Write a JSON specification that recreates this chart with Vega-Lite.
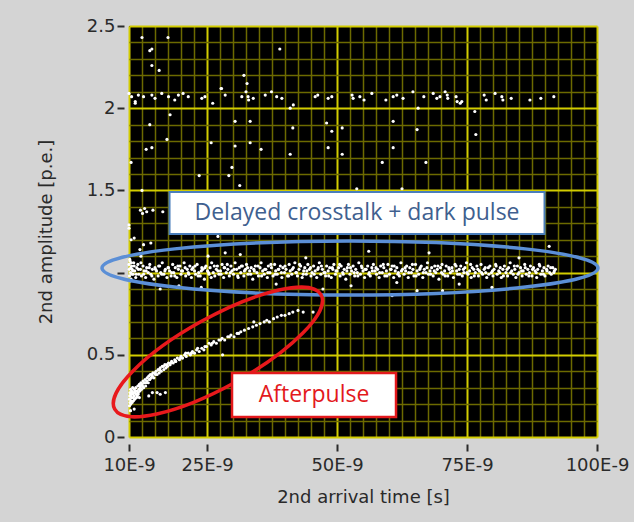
{
  "$schema": "https://vega.github.io/schema/vega-lite/v6.json",
  "width": 468,
  "height": 411,
  "autosize": {"type": "none"},
  "padding": {"left": 129, "top": 26, "right": 37, "bottom": 85},
  "background": "#d4d4d4",
  "view": {"fill": "#000000", "stroke": null},
  "datasets": {
    "pts": [
      {"t":10.0,"a":1.05},{"t":10.1,"a":0.98},{"t":10.2,"a":1.07},{"t":10.3,"a":1.00},{"t":10.4,"a":0.96},{"t":10.5,"a":1.04},{"t":10.6,"a":1.02},{"t":10.8,"a":0.99},{"t":10.9,"a":1.06},{"t":11.1,"a":1.01},
      {"t":11.3,"a":0.97},{"t":11.5,"a":1.03},{"t":11.7,"a":1.05},{"t":11.9,"a":0.99},{"t":12.2,"a":1.02},{"t":12.4,"a":0.98},{"t":12.7,"a":1.04},{"t":12.9,"a":1.01},{"t":13.2,"a":0.97},{"t":13.4,"a":1.03},
      {"t":13.7,"a":1.00},{"t":14.0,"a":1.05},{"t":14.2,"a":0.99},{"t":14.5,"a":1.02},{"t":14.8,"a":0.96},{"t":15.0,"a":1.03},{"t":15.3,"a":1.01},{"t":15.6,"a":0.98},{"t":15.9,"a":1.04},{"t":16.1,"a":1.00},
      {"t":16.4,"a":1.06},{"t":16.7,"a":0.99},{"t":17.0,"a":1.02},{"t":17.3,"a":0.97},{"t":17.5,"a":1.03},{"t":17.8,"a":1.01},{"t":18.1,"a":0.98},{"t":18.4,"a":1.05},{"t":18.6,"a":1.00},{"t":18.9,"a":1.03},
      {"t":19.2,"a":0.97},{"t":19.5,"a":1.02},{"t":19.8,"a":1.04},{"t":20.0,"a":0.99},{"t":20.3,"a":1.01},{"t":20.6,"a":1.06},{"t":20.9,"a":0.98},{"t":21.2,"a":1.02},{"t":21.4,"a":1.00},{"t":21.7,"a":1.04},
      {"t":22.0,"a":0.97},{"t":22.3,"a":1.03},{"t":22.6,"a":1.01},{"t":22.8,"a":0.99},{"t":23.1,"a":1.05},{"t":23.4,"a":1.00},{"t":23.7,"a":0.98},{"t":24.0,"a":1.03},{"t":24.2,"a":1.02},{"t":24.5,"a":0.96},
      {"t":24.8,"a":1.04},{"t":25.1,"a":1.01},{"t":25.4,"a":0.99},{"t":25.6,"a":1.03},{"t":25.9,"a":1.06},{"t":26.2,"a":1.00},{"t":26.5,"a":0.98},{"t":26.8,"a":1.02},{"t":27.0,"a":1.04},{"t":27.3,"a":0.99},
      {"t":27.6,"a":1.01},{"t":27.9,"a":1.05},{"t":28.2,"a":0.97},{"t":28.4,"a":1.03},{"t":28.7,"a":1.00},{"t":29.0,"a":1.02},{"t":29.3,"a":0.98},{"t":29.6,"a":1.04},{"t":29.8,"a":1.01},{"t":30.1,"a":0.99},
      {"t":30.4,"a":1.06},{"t":30.7,"a":1.02},{"t":31.0,"a":0.97},{"t":31.2,"a":1.03},{"t":31.5,"a":1.00},{"t":31.8,"a":1.04},{"t":32.1,"a":0.98},{"t":32.4,"a":1.02},{"t":32.6,"a":1.05},{"t":32.9,"a":0.99},
      {"t":33.2,"a":1.01},{"t":33.5,"a":1.03},{"t":33.8,"a":0.96},{"t":34.0,"a":1.02},{"t":34.3,"a":1.04},{"t":34.6,"a":1.00},{"t":34.9,"a":0.98},{"t":35.2,"a":1.03},{"t":35.4,"a":1.06},{"t":35.7,"a":1.01},
      {"t":36.0,"a":0.99},{"t":36.3,"a":1.02},{"t":36.6,"a":0.97},{"t":36.8,"a":1.04},{"t":37.1,"a":1.00},{"t":37.4,"a":1.03},{"t":37.7,"a":0.98},{"t":38.0,"a":1.05},{"t":38.2,"a":1.01},{"t":38.5,"a":0.99},
      {"t":38.8,"a":1.02},{"t":39.1,"a":1.04},{"t":39.4,"a":0.97},{"t":39.6,"a":1.03},{"t":39.9,"a":1.00},{"t":40.2,"a":1.02},{"t":40.5,"a":0.98},{"t":40.8,"a":1.05},{"t":41.0,"a":1.01},{"t":41.3,"a":0.99},
      {"t":41.6,"a":1.03},{"t":41.9,"a":1.06},{"t":42.2,"a":1.00},{"t":42.4,"a":0.98},{"t":42.7,"a":1.02},{"t":43.0,"a":1.04},{"t":43.3,"a":0.97},{"t":43.6,"a":1.01},{"t":43.8,"a":1.03},{"t":44.1,"a":0.99},
      {"t":44.4,"a":1.05},{"t":44.7,"a":1.02},{"t":45.0,"a":0.98},{"t":45.2,"a":1.00},{"t":45.5,"a":1.04},{"t":45.8,"a":1.01},{"t":46.1,"a":0.97},{"t":46.4,"a":1.03},{"t":46.6,"a":1.06},{"t":46.9,"a":0.99},
      {"t":47.2,"a":1.02},{"t":47.5,"a":1.00},{"t":47.8,"a":0.98},{"t":48.0,"a":1.04},{"t":48.3,"a":1.01},{"t":48.6,"a":1.03},{"t":48.9,"a":0.97},{"t":49.2,"a":1.02},{"t":49.4,"a":1.05},{"t":49.7,"a":0.99},
      {"t":50.0,"a":1.01},{"t":50.3,"a":1.03},{"t":50.6,"a":0.98},{"t":50.8,"a":1.04},{"t":51.1,"a":1.00},{"t":51.4,"a":1.02},{"t":51.7,"a":0.96},{"t":52.0,"a":1.03},{"t":52.2,"a":1.05},{"t":52.5,"a":0.99},
      {"t":52.8,"a":1.01},{"t":53.1,"a":1.04},{"t":53.4,"a":0.98},{"t":53.6,"a":1.02},{"t":53.9,"a":1.00},{"t":54.2,"a":1.06},{"t":54.5,"a":0.99},{"t":54.8,"a":1.03},{"t":55.0,"a":1.01},{"t":55.3,"a":0.97},
      {"t":55.6,"a":1.02},{"t":55.9,"a":1.04},{"t":56.2,"a":1.00},{"t":56.4,"a":0.98},{"t":56.7,"a":1.03},{"t":57.0,"a":1.05},{"t":57.3,"a":1.01},{"t":57.6,"a":0.99},{"t":57.8,"a":1.02},{"t":58.1,"a":0.97},
      {"t":58.4,"a":1.04},{"t":58.7,"a":1.00},{"t":59.0,"a":1.03},{"t":59.2,"a":0.98},{"t":59.5,"a":1.01},{"t":59.8,"a":1.05},{"t":60.1,"a":0.99},{"t":60.4,"a":1.02},{"t":60.6,"a":1.04},{"t":60.9,"a":0.97},
      {"t":61.2,"a":1.01},{"t":61.5,"a":1.03},{"t":61.8,"a":1.00},{"t":62.0,"a":0.98},{"t":62.3,"a":1.06},{"t":62.6,"a":1.02},{"t":62.9,"a":0.99},{"t":63.2,"a":1.01},{"t":63.4,"a":1.04},{"t":63.7,"a":0.97},
      {"t":64.0,"a":1.03},{"t":64.3,"a":1.00},{"t":64.6,"a":1.02},{"t":64.8,"a":0.98},{"t":65.1,"a":1.05},{"t":65.4,"a":1.01},{"t":65.7,"a":0.99},{"t":66.0,"a":1.03},{"t":66.2,"a":1.04},{"t":66.5,"a":0.97},
      {"t":66.8,"a":1.02},{"t":67.1,"a":1.00},{"t":67.4,"a":1.06},{"t":67.6,"a":0.99},{"t":67.9,"a":1.01},{"t":68.2,"a":1.03},{"t":68.5,"a":0.98},{"t":68.8,"a":1.04},{"t":69.0,"a":1.00},{"t":69.3,"a":1.02},
      {"t":69.6,"a":0.96},{"t":69.9,"a":1.03},{"t":70.2,"a":1.05},{"t":70.4,"a":0.99},{"t":70.7,"a":1.01},{"t":71.0,"a":1.04},{"t":71.3,"a":0.98},{"t":71.6,"a":1.02},{"t":71.8,"a":1.00},{"t":72.1,"a":1.03},
      {"t":72.4,"a":0.97},{"t":72.7,"a":1.05},{"t":73.0,"a":1.01},{"t":73.2,"a":0.99},{"t":73.5,"a":1.02},{"t":73.8,"a":1.04},{"t":74.1,"a":0.98},{"t":74.4,"a":1.00},{"t":74.6,"a":1.03},{"t":74.9,"a":1.06},
      {"t":75.2,"a":0.99},{"t":75.5,"a":1.01},{"t":75.8,"a":0.97},{"t":76.0,"a":1.03},{"t":76.3,"a":1.02},{"t":76.6,"a":1.00},{"t":76.9,"a":1.04},{"t":77.2,"a":0.98},{"t":77.4,"a":1.01},{"t":77.7,"a":1.05},
      {"t":78.0,"a":0.99},{"t":78.3,"a":1.02},{"t":78.6,"a":1.00},{"t":78.8,"a":0.97},{"t":79.1,"a":1.03},{"t":79.4,"a":1.04},{"t":79.7,"a":1.00},{"t":80.0,"a":0.98},{"t":80.2,"a":1.02},{"t":80.5,"a":1.05},
      {"t":80.8,"a":0.99},{"t":81.1,"a":1.01},{"t":81.4,"a":1.03},{"t":81.6,"a":0.97},{"t":81.9,"a":1.02},{"t":82.2,"a":1.04},{"t":82.5,"a":1.00},{"t":82.8,"a":0.98},{"t":83.0,"a":1.03},{"t":83.3,"a":1.06},
      {"t":83.6,"a":1.01},{"t":83.9,"a":0.99},{"t":84.2,"a":1.02},{"t":84.4,"a":0.97},{"t":84.7,"a":1.04},{"t":85.0,"a":1.00},{"t":85.3,"a":1.03},{"t":85.6,"a":0.98},{"t":85.8,"a":1.01},{"t":86.1,"a":1.05},
      {"t":86.4,"a":0.99},{"t":86.7,"a":1.02},{"t":87.0,"a":1.00},{"t":87.2,"a":1.04},{"t":87.5,"a":0.98},{"t":87.8,"a":1.03},{"t":88.1,"a":1.01},{"t":88.4,"a":0.97},{"t":88.6,"a":1.02},{"t":88.9,"a":1.05},
      {"t":89.2,"a":0.99},{"t":89.5,"a":1.01},{"t":89.8,"a":1.03},{"t":90.0,"a":0.98},{"t":90.3,"a":1.02},{"t":90.6,"a":1.04},{"t":90.9,"a":1.00},{"t":91.2,"a":0.99},{"t":91.5,"a":1.03},{"t":91.8,"a":1.01},
      {"t":10.05,"a":1.02},{"t":10.15,"a":1.08},{"t":10.25,"a":0.95},{"t":10.35,"a":1.03},{"t":10.45,"a":1.06},{"t":10.55,"a":0.99},{"t":10.7,"a":1.01},{"t":11.0,"a":1.04},{"t":11.4,"a":0.99},{"t":11.8,"a":1.02},
      {"t":12.3,"a":1.06},{"t":12.8,"a":0.99},{"t":13.3,"a":1.01},{"t":13.9,"a":1.03},{"t":14.4,"a":0.98},{"t":15.1,"a":1.02},{"t":15.7,"a":1.04},{"t":16.3,"a":0.99},{"t":16.9,"a":1.01},{"t":17.6,"a":1.03},
      {"t":18.2,"a":1.00},{"t":18.8,"a":0.98},{"t":19.4,"a":1.04},{"t":20.1,"a":1.01},{"t":20.8,"a":1.03},{"t":21.5,"a":0.99},{"t":22.1,"a":1.02},{"t":22.7,"a":1.04},{"t":23.3,"a":0.98},{"t":23.9,"a":1.01},
      {"t":24.6,"a":1.03},{"t":25.3,"a":1.00},{"t":25.8,"a":0.97},{"t":26.4,"a":1.04},{"t":27.1,"a":1.01},{"t":27.7,"a":0.99},{"t":28.3,"a":1.03},{"t":28.9,"a":1.05},{"t":29.5,"a":1.00},{"t":30.2,"a":1.02},
      {"t":30.9,"a":0.98},{"t":31.6,"a":1.04},{"t":32.2,"a":1.01},{"t":32.8,"a":1.03},{"t":33.4,"a":0.99},{"t":34.1,"a":1.01},{"t":34.8,"a":1.04},{"t":35.5,"a":0.98},{"t":36.1,"a":1.02},{"t":36.7,"a":1.00},
      {"t":37.3,"a":1.05},{"t":38.1,"a":0.99},{"t":38.7,"a":1.02},{"t":39.3,"a":1.00},{"t":40.0,"a":1.04},{"t":40.7,"a":0.98},{"t":41.4,"a":1.02},{"t":42.1,"a":1.00},{"t":42.8,"a":1.05},{"t":43.5,"a":0.99},
      {"t":44.2,"a":1.01},{"t":44.9,"a":1.03},{"t":45.6,"a":0.99},{"t":46.3,"a":1.02},{"t":47.0,"a":1.04},{"t":47.7,"a":1.00},{"t":48.4,"a":0.98},{"t":49.1,"a":1.03},{"t":49.8,"a":1.01},{"t":50.5,"a":1.05},
      {"t":51.2,"a":0.99},{"t":51.9,"a":1.01},{"t":52.6,"a":1.03},{"t":53.3,"a":1.00},{"t":54.0,"a":0.98},{"t":54.7,"a":1.04},{"t":55.4,"a":1.02},{"t":56.1,"a":0.99},{"t":56.8,"a":1.01},{"t":57.5,"a":1.03},
      {"t":58.2,"a":1.00},{"t":58.9,"a":1.05},{"t":59.6,"a":0.98},{"t":60.3,"a":1.02},{"t":61.0,"a":1.04},{"t":61.7,"a":0.99},{"t":62.4,"a":1.01},{"t":63.1,"a":1.03},{"t":63.8,"a":1.00},{"t":64.5,"a":1.05},
      {"t":65.2,"a":0.98},{"t":65.9,"a":1.02},{"t":66.6,"a":1.00},{"t":67.3,"a":1.03},{"t":68.0,"a":0.99},{"t":68.7,"a":1.01},{"t":69.4,"a":1.04},{"t":70.1,"a":1.00},{"t":70.8,"a":0.98},{"t":71.5,"a":1.03},
      {"t":72.2,"a":1.01},{"t":72.9,"a":1.04},{"t":73.6,"a":0.99},{"t":74.3,"a":1.02},{"t":75.0,"a":1.00},{"t":75.7,"a":1.05},{"t":76.4,"a":0.98},{"t":77.1,"a":1.02},{"t":77.8,"a":1.00},{"t":78.5,"a":1.03},
      {"t":79.2,"a":0.99},{"t":79.9,"a":1.01},{"t":80.6,"a":1.04},{"t":81.3,"a":1.00},{"t":82.0,"a":0.98},{"t":82.7,"a":1.02},{"t":83.4,"a":1.00},{"t":84.1,"a":1.04},{"t":84.8,"a":0.99},{"t":85.5,"a":1.01},
      {"t":86.2,"a":1.03},{"t":86.9,"a":0.98},{"t":87.6,"a":1.02},{"t":88.3,"a":1.00},{"t":89.0,"a":1.04},{"t":89.7,"a":0.99},{"t":90.4,"a":1.01},{"t":91.1,"a":1.03},{"t":91.7,"a":1.00},{"t":92.0,"a":1.02},
      {"t":12.3,"a":1.10},{"t":19.6,"a":0.92},{"t":23.9,"a":0.91},{"t":31.4,"a":1.11},{"t":38.3,"a":0.93},{"t":44.0,"a":1.09},{"t":52.7,"a":0.92},{"t":60.6,"a":0.86},{"t":61.5,"a":0.94},{"t":65.4,"a":0.89},
      {"t":67.7,"a":1.12},{"t":70.3,"a":0.89},{"t":73.5,"a":0.93},{"t":90.8,"a":1.16},{"t":85.0,"a":1.09},{"t":56.1,"a":1.13},{"t":47.3,"a":0.90},{"t":28.5,"a":1.12},{"t":16.0,"a":0.90},{"t":79.8,"a":0.91},
      {"t":10.0,"a":1.27},{"t":10.0,"a":1.29},{"t":10.4,"a":1.20},{"t":11.0,"a":1.21},{"t":12.1,"a":1.14},{"t":12.8,"a":1.17},{"t":14.2,"a":1.18},{"t":12.5,"a":1.50},{"t":12.6,"a":1.36},{"t":13.0,"a":1.39},
      {"t":13.4,"a":1.37},{"t":12.2,"a":1.38},{"t":14.6,"a":1.38},{"t":16.5,"a":1.37},{"t":10.4,"a":1.67},{"t":25.2,"a":1.10},{"t":27.1,"a":1.22},{"t":23.5,"a":1.59},{"t":29.2,"a":1.59},{"t":29.8,"a":1.64},
      {"t":31.3,"a":1.53},{"t":53.8,"a":1.51},{"t":62.5,"a":1.51},{"t":58.7,"a":1.67},{"t":67.1,"a":1.67},{"t":13.3,"a":1.75},{"t":14.4,"a":1.76},{"t":17.3,"a":1.81},{"t":14.0,"a":1.90},{"t":17.9,"a":1.96},
      {"t":11.2,"a":2.03},{"t":25.8,"a":1.79},{"t":30.4,"a":1.92},{"t":33.3,"a":1.92},{"t":33.3,"a":1.79},{"t":35.4,"a":1.75},{"t":30.4,"a":1.77},{"t":41.0,"a":1.72},{"t":48.3,"a":1.76},{"t":51.0,"a":1.72},
      {"t":60.8,"a":1.76},{"t":41.5,"a":1.88},{"t":48.0,"a":1.91},{"t":49.0,"a":1.86},{"t":51.0,"a":1.88},{"t":60.8,"a":1.92},{"t":76.7,"a":1.84},{"t":65.4,"a":1.87},
      {"t":12.5,"a":2.43},{"t":17.5,"a":2.43},{"t":14.0,"a":2.35},{"t":14.4,"a":2.36},{"t":14.4,"a":2.26},{"t":15.8,"a":2.23},{"t":39.0,"a":2.36},{"t":32.1,"a":2.20},{"t":32.7,"a":2.15},{"t":27.7,"a":2.12},
      {"t":10.0,"a":2.09},{"t":10.5,"a":2.07},{"t":11.2,"a":2.04},{"t":11.8,"a":2.08},{"t":12.8,"a":2.07},{"t":14.4,"a":2.08},{"t":15.0,"a":2.06},{"t":16.3,"a":2.09},{"t":17.6,"a":2.07},{"t":18.8,"a":2.05},
      {"t":19.5,"a":2.08},{"t":20.4,"a":2.09},{"t":21.4,"a":2.07},{"t":24.0,"a":2.06},{"t":24.6,"a":2.07},{"t":26.1,"a":2.03},{"t":27.8,"a":2.12},{"t":28.5,"a":2.08},{"t":31.7,"a":2.07},{"t":32.5,"a":2.10},
      {"t":33.0,"a":2.05},{"t":32.9,"a":2.07},{"t":33.9,"a":2.06},{"t":36.2,"a":2.08},{"t":37.4,"a":2.10},{"t":38.4,"a":2.07},{"t":39.4,"a":2.06},{"t":41.0,"a":2.00},{"t":41.6,"a":2.02},{"t":45.8,"a":2.07},
      {"t":46.3,"a":2.08},{"t":48.3,"a":2.06},{"t":49.0,"a":2.07},{"t":52.9,"a":2.08},{"t":53.1,"a":2.06},{"t":54.4,"a":2.07},{"t":55.2,"a":2.05},{"t":56.7,"a":2.09},{"t":59.4,"a":2.05},{"t":60.8,"a":2.07},
      {"t":61.5,"a":2.08},{"t":62.7,"a":2.06},{"t":64.6,"a":2.10},{"t":65.6,"a":2.00},{"t":66.7,"a":2.07},{"t":68.5,"a":2.09},{"t":69.2,"a":2.06},{"t":69.8,"a":2.07},{"t":70.8,"a":2.10},{"t":71.2,"a":2.08},
      {"t":71.3,"a":2.06},{"t":72.9,"a":2.07},{"t":73.1,"a":2.04},{"t":73.7,"a":2.03},{"t":74.0,"a":2.04},{"t":76.5,"a":1.98},{"t":78.3,"a":2.08},{"t":78.7,"a":2.05},{"t":80.4,"a":2.09},{"t":81.7,"a":2.07},
      {"t":81.9,"a":2.05},{"t":83.5,"a":2.06},{"t":87.1,"a":2.05},{"t":89.2,"a":2.06},{"t":91.7,"a":2.07},
      {"t":10.1,"a":0.19},{"t":10.1,"a":0.23},{"t":10.2,"a":0.27},{"t":10.2,"a":0.21},{"t":10.3,"a":0.25},{"t":10.3,"a":0.29},{"t":10.4,"a":0.22},{"t":10.4,"a":0.26},{"t":10.5,"a":0.24},{"t":10.5,"a":0.28},
      {"t":10.6,"a":0.21},{"t":10.7,"a":0.26},{"t":10.7,"a":0.30},{"t":10.8,"a":0.24},{"t":10.9,"a":0.27},{"t":11.0,"a":0.25},{"t":11.0,"a":0.29},{"t":11.1,"a":0.23},{"t":11.2,"a":0.27},{"t":11.3,"a":0.30},
      {"t":11.4,"a":0.26},{"t":11.5,"a":0.28},{"t":11.6,"a":0.25},{"t":11.7,"a":0.31},{"t":11.8,"a":0.27},{"t":11.9,"a":0.29},{"t":12.0,"a":0.32},{"t":12.1,"a":0.28},{"t":12.2,"a":0.30},{"t":12.3,"a":0.33},
      {"t":12.4,"a":0.29},{"t":12.6,"a":0.31},{"t":12.7,"a":0.34},{"t":12.8,"a":0.30},{"t":13.0,"a":0.33},{"t":13.1,"a":0.35},{"t":13.2,"a":0.31},{"t":13.4,"a":0.34},{"t":13.5,"a":0.36},{"t":13.7,"a":0.33},
      {"t":13.8,"a":0.37},{"t":14.0,"a":0.35},{"t":14.1,"a":0.38},{"t":14.3,"a":0.36},{"t":14.5,"a":0.37},{"t":14.6,"a":0.39},{"t":14.8,"a":0.36},{"t":15.0,"a":0.39},{"t":15.2,"a":0.40},{"t":15.4,"a":0.38},
      {"t":15.6,"a":0.41},{"t":15.8,"a":0.39},{"t":16.0,"a":0.42},{"t":16.2,"a":0.40},{"t":16.4,"a":0.43},{"t":16.7,"a":0.41},{"t":16.9,"a":0.44},{"t":17.1,"a":0.42},{"t":17.4,"a":0.43},{"t":17.6,"a":0.45},
      {"t":17.9,"a":0.44},{"t":18.2,"a":0.46},{"t":18.5,"a":0.45},{"t":18.8,"a":0.47},{"t":19.0,"a":0.46},{"t":19.3,"a":0.48},{"t":19.7,"a":0.47},{"t":20.0,"a":0.49},{"t":20.3,"a":0.48},{"t":20.7,"a":0.50},
      {"t":21.0,"a":0.49},{"t":21.4,"a":0.51},{"t":21.8,"a":0.50},{"t":22.2,"a":0.52},{"t":22.6,"a":0.51},{"t":23.0,"a":0.53},{"t":23.5,"a":0.52},{"t":24.0,"a":0.54},{"t":24.4,"a":0.53},{"t":24.9,"a":0.55},
      {"t":25.4,"a":0.57},{"t":25.8,"a":0.56},{"t":26.3,"a":0.58},{"t":26.8,"a":0.57},{"t":27.3,"a":0.59},{"t":27.9,"a":0.60},{"t":28.4,"a":0.59},{"t":29.0,"a":0.61},{"t":29.6,"a":0.62},{"t":30.2,"a":0.61},
      {"t":30.8,"a":0.63},{"t":31.5,"a":0.64},{"t":32.2,"a":0.65},{"t":33.0,"a":0.66},{"t":33.8,"a":0.67},{"t":34.5,"a":0.68},{"t":35.2,"a":0.69},{"t":36.0,"a":0.70},{"t":36.5,"a":0.71},{"t":37.0,"a":0.70},
      {"t":37.8,"a":0.72},{"t":38.5,"a":0.73},{"t":39.3,"a":0.74},{"t":40.0,"a":0.74},{"t":40.8,"a":0.75},{"t":41.5,"a":0.76},{"t":42.5,"a":0.77},{"t":43.5,"a":0.76},{"t":45.4,"a":0.76},
      {"t":10.15,"a":0.25},{"t":10.35,"a":0.20},{"t":10.6,"a":0.27},{"t":10.85,"a":0.22},{"t":11.15,"a":0.28},{"t":11.45,"a":0.24},{"t":11.75,"a":0.26},{"t":12.1,"a":0.31},{"t":12.5,"a":0.32},{"t":12.9,"a":0.33},
      {"t":13.3,"a":0.33},{"t":13.9,"a":0.35},{"t":14.4,"a":0.38},{"t":15.1,"a":0.38},{"t":15.9,"a":0.41},{"t":16.6,"a":0.43},{"t":17.3,"a":0.44},{"t":18.0,"a":0.45},{"t":18.9,"a":0.46},{"t":19.9,"a":0.48},
      {"t":20.9,"a":0.51},{"t":22.0,"a":0.51},{"t":23.2,"a":0.54},{"t":24.6,"a":0.55},{"t":26.0,"a":0.57},{"t":27.6,"a":0.59},{"t":29.3,"a":0.61},{"t":31.1,"a":0.63},
      {"t":13.8,"a":0.25},{"t":14.5,"a":0.27},{"t":15.4,"a":0.27},{"t":16.0,"a":0.26},{"t":17.0,"a":0.27},{"t":10.3,"a":0.16},{"t":11.0,"a":0.17},{"t":12.0,"a":0.24},{"t":28.0,"a":0.50},{"t":34.0,"a":0.70}
    ]
  },
  "encoding": {
    "x": {
      "field": "t", "type": "quantitative",
      "scale": {"domain": [10, 100], "nice": false, "zero": false},
      "axis": {
        "values": [10,12.5,15,17.5,20,22.5,25,27.5,30,32.5,35,37.5,40,42.5,45,47.5,50,52.5,55,57.5,60,62.5,65,67.5,70,72.5,75,77.5,80,82.5,85,87.5,90,92.5,95,97.5,100],
        "labelExpr": "(datum.value == 10 || datum.value % 25 == 0) ? datum.value + 'E-9' : ''",
        "labelOverlap": false,
        "labelFlush": false,
        "domain": false,
        "offset": 7,
        "tickSize": 7,
        "tickWidth": 2,
        "tickColor": "#2a2a2a",
        "tickOpacity": {"condition": {"test": "datum.value == 10 || datum.value % 25 == 0", "value": 1}, "value": 0},
        "grid": true,
        "gridColor": {"condition": {"test": "datum.value == 10 || datum.value % 25 == 0", "value": "#d2cc00"}, "value": "#6c6a00"},
        "gridWidth": {"condition": {"test": "datum.value == 10 || datum.value % 25 == 0", "value": 2}, "value": 1.5},
        "gridOpacity": 1,
        "labelFont": "DejaVu Sans",
        "labelFontSize": 18,
        "labelColor": "#2a2a2a",
        "labelPadding": 5,
        "title": "2nd arrival time [s]",
        "titleFont": "DejaVu Sans",
        "titleFontSize": 18,
        "titleFontWeight": "normal",
        "titleColor": "#2a2a2a",
        "titlePadding": 14
      }
    },
    "y": {
      "field": "a", "type": "quantitative",
      "scale": {"domain": [0, 2.5], "nice": false, "zero": false},
      "axis": {
        "values": [0,0.1,0.2,0.3,0.4,0.5,0.6,0.7,0.8,0.9,1,1.1,1.2,1.3,1.4,1.5,1.6,1.7,1.8,1.9,2,2.1,2.2,2.3,2.4,2.5],
        "labelExpr": "(abs(datum.value*2 - round(datum.value*2)) < 0.001 && datum.value != 1) ? '' + datum.value : ''",
        "labelOverlap": false,
        "labelFlush": false,
        "domain": false,
        "offset": 5,
        "tickSize": 7,
        "tickWidth": 2,
        "tickColor": "#2a2a2a",
        "tickOpacity": {"condition": {"test": "abs(datum.value*2 - round(datum.value*2)) < 0.001", "value": 1}, "value": 0},
        "grid": true,
        "gridColor": {"condition": {"test": "abs(datum.value*2 - round(datum.value*2)) < 0.001", "value": "#d2cc00"}, "value": "#6c6a00"},
        "gridWidth": {"condition": {"test": "abs(datum.value*2 - round(datum.value*2)) < 0.001", "value": 2}, "value": 1.5},
        "gridOpacity": 1,
        "labelFont": "DejaVu Sans",
        "labelFontSize": 18,
        "labelColor": "#2a2a2a",
        "labelPadding": 2,
        "title": "2nd amplitude [p.e.]",
        "titleFont": "DejaVu Sans",
        "titleFontSize": 18,
        "titleFontWeight": "normal",
        "titleColor": "#2a2a2a",
        "titlePadding": 31
      }
    }
  },
  "layer": [
    {
      "data": {"name": "pts"},
      "mark": {"type": "point", "filled": true, "color": "#ffffff", "size": 10, "opacity": 1}
    },
    {
      "data": {"values": [{"t": 52.5, "a": 1.028}]},
      "mark": {"type": "point", "shape": "M-1,0C-1,-0.0602,-0.5523,-0.109,0,-0.109C0.5523,-0.109,1,-0.0602,1,0C1,0.0602,0.5523,0.109,0,0.109C-0.5523,0.109,-1,0.0602,-1,0Z", "size": 246016, "filled": false, "stroke": "#5b8fd6", "strokeWidth": 3.5, "opacity": 1}
    },
    {
      "data": {"values": [{"t": 27.1, "a": 0.517}]},
      "mark": {"type": "point", "shape": "M-1,0C-1,-0.163,-0.5523,-0.295,0,-0.295C0.5523,-0.295,1,-0.163,1,0C1,0.163,0.5523,0.295,0,0.295C-0.5523,0.295,-1,0.163,-1,0Z", "size": 55696, "angle": -29, "filled": false, "stroke": "#e8191c", "strokeWidth": 3.5, "opacity": 1}
    },
    {
      "data": {"values": [{"t": 53.85, "a": 1.3625, "label": "Delayed crosstalk + dark pulse"}]},
      "layer": [
        {
          "mark": {"type": "point", "shape": "M-1,-0.112L1,-0.112L1,0.112L-1,0.112Z", "size": 140625, "filled": true, "fill": "#ffffff", "stroke": "#4a7ebb", "strokeWidth": 2, "opacity": 1}
        },
        {
          "mark": {"type": "text", "font": "Open Sans", "fontSize": 23, "color": "#40608f", "align": "center", "baseline": "middle"},
          "encoding": {"text": {"field": "label"}}
        }
      ]
    },
    {
      "data": {"values": [{"t": 45.58, "a": 0.2555, "label": "Afterpulse"}]},
      "layer": [
        {
          "mark": {"type": "point", "shape": "M-1,-0.268L1,-0.268L1,0.268L-1,0.268Z", "size": 26896, "filled": true, "fill": "#ffffff", "stroke": "#e3191c", "strokeWidth": 2.5, "opacity": 1}
        },
        {
          "mark": {"type": "text", "font": "Open Sans", "fontSize": 23, "color": "#e3191c", "align": "center", "baseline": "middle"},
          "encoding": {"text": {"field": "label"}}
        }
      ]
    }
  ]
}
